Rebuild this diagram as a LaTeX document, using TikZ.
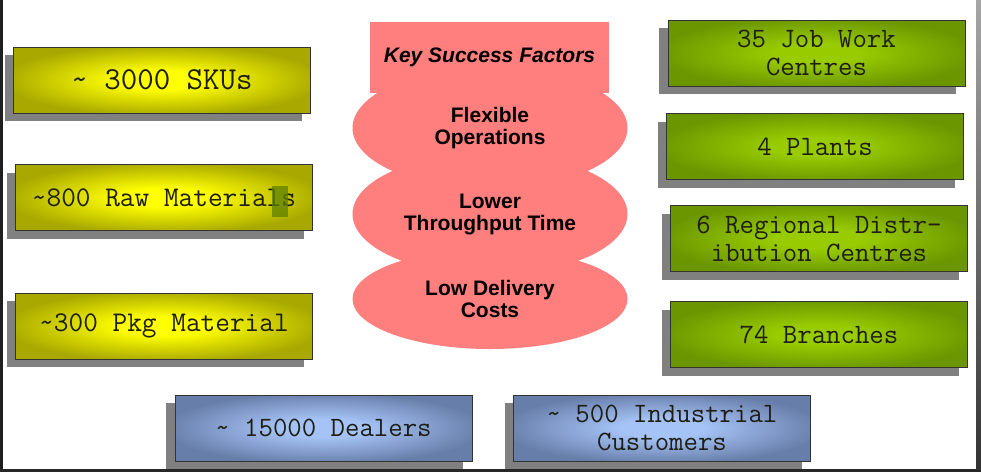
\documentclass[tikz,border=0pt]{standalone}
\usepackage{fontspec}
\setmainfont{Liberation Sans}
\setsansfont{Liberation Sans}
\usetikzlibrary{shapes.geometric,shadows}

\definecolor{oliveedge}{RGB}{168,168,0}
\definecolor{yellowmid}{RGB}{255,255,0}
\definecolor{greenedge}{RGB}{107,150,0}
\definecolor{greenmid}{RGB}{153,204,0}
\definecolor{blueedge}{RGB}{104,126,170}
\definecolor{bluemid}{RGB}{165,195,246}
\definecolor{salmon}{RGB}{255,127,127}
\definecolor{boxshadow}{RGB}{128,128,128}
\definecolor{boxtext}{RGB}{30,30,20}
\definecolor{markgreen}{RGB}{95,128,0}

\pgfdeclareradialshading{yellowglow}{\pgfpoint{0bp}{0bp}}{color(0bp)=(yellowmid); color(7bp)=(yellowmid); color(27bp)=(oliveedge); color(50bp)=(oliveedge)}
\pgfdeclareradialshading{greenglow}{\pgfpoint{0bp}{0bp}}{color(0bp)=(greenmid); color(7bp)=(greenmid); color(27bp)=(greenedge); color(50bp)=(greenedge)}
\pgfdeclareradialshading{blueglow}{\pgfpoint{0bp}{0bp}}{color(0bp)=(bluemid); color(7bp)=(bluemid); color(27bp)=(blueedge); color(50bp)=(blueedge)}

\tikzset{
  factbox/.style={draw=black!80, line width=0.8pt, minimum width=297pt, minimum height=66pt,
    inner sep=0pt, align=center, text=boxtext,
    font=\ttfamily\fontsize{28}{28}\selectfont,
    drop shadow={shadow xshift=-9pt, shadow yshift=-8pt, fill=boxshadow, opacity=1}},
  inputbox/.style={factbox, shading=yellowglow},
  sitebox/.style={factbox, shading=greenglow},
  marketbox/.style={factbox, shading=blueglow},
  factor/.style={ellipse, fill=salmon, minimum width=275pt, minimum height=122pt,
    inner sep=0pt, align=center, font=\bfseries\fontsize{21}{22}\selectfont}
}

\begin{document}
\begin{tikzpicture}[x=1pt, y=-1pt]
    \useasboundingbox (0,0) rectangle (981,472);
    \fill[white] (0,0) rectangle (981,472);

    \node[inputbox, font=\ttfamily\fontsize{32}{28}\selectfont] (sku) at (162,80) {\textasciitilde{} 3000 SKUs};
    \node[inputbox, font=\ttfamily\fontsize{28.5}{28}\selectfont] (raw) at (164,197.5) {\textasciitilde800 Raw Materials};
    \fill[markgreen, fill opacity=0.75] (272,186) rectangle (288,217);
    \node[inputbox, font=\ttfamily\fontsize{28.5}{28}\selectfont] (pkg) at (164,326) {\textasciitilde300 Pkg Material};

    \node[sitebox] (jobwork) at (816.5,53) {35 Job Work\\Centres};
    \node[sitebox] (plants) at (815,146.5) {4 Plants};
    \node[sitebox] (rdc) at (819,238.5) {6 Regional Distr-\\ibution Centres};
    \node[sitebox] (branches) at (819,334.5) {74 Branches};

    \node[marketbox] (dealers) at (323.5,428) {\textasciitilde{} 15000 Dealers};
    \node[marketbox] (industrial) at (662,428) {\textasciitilde{} 500 Industrial\\Customers};

    \node[factor, minimum height=100pt] (lowcost) at (490,299) {Low Delivery\\Costs};
    \node[factor] (throughput) at (490,214) {Lower\\Throughput Time};
    \node[factor] (flexible) at (490,128) {Flexible\\Operations};
    \node[fill=salmon, minimum width=239pt, minimum height=71pt, inner sep=0pt,
      font=\bfseries\itshape\fontsize{21}{24}\selectfont] (ksf) at (489.5,57) {Key Success Factors};

    \fill[black!88] (0,0) rectangle (2.5,472);
    \fill[black!85] (0,469) rectangle (981,472);
    \shade[top color=black!35, bottom color=black!80] (976,0) rectangle (981,469);
\end{tikzpicture}
\end{document}
